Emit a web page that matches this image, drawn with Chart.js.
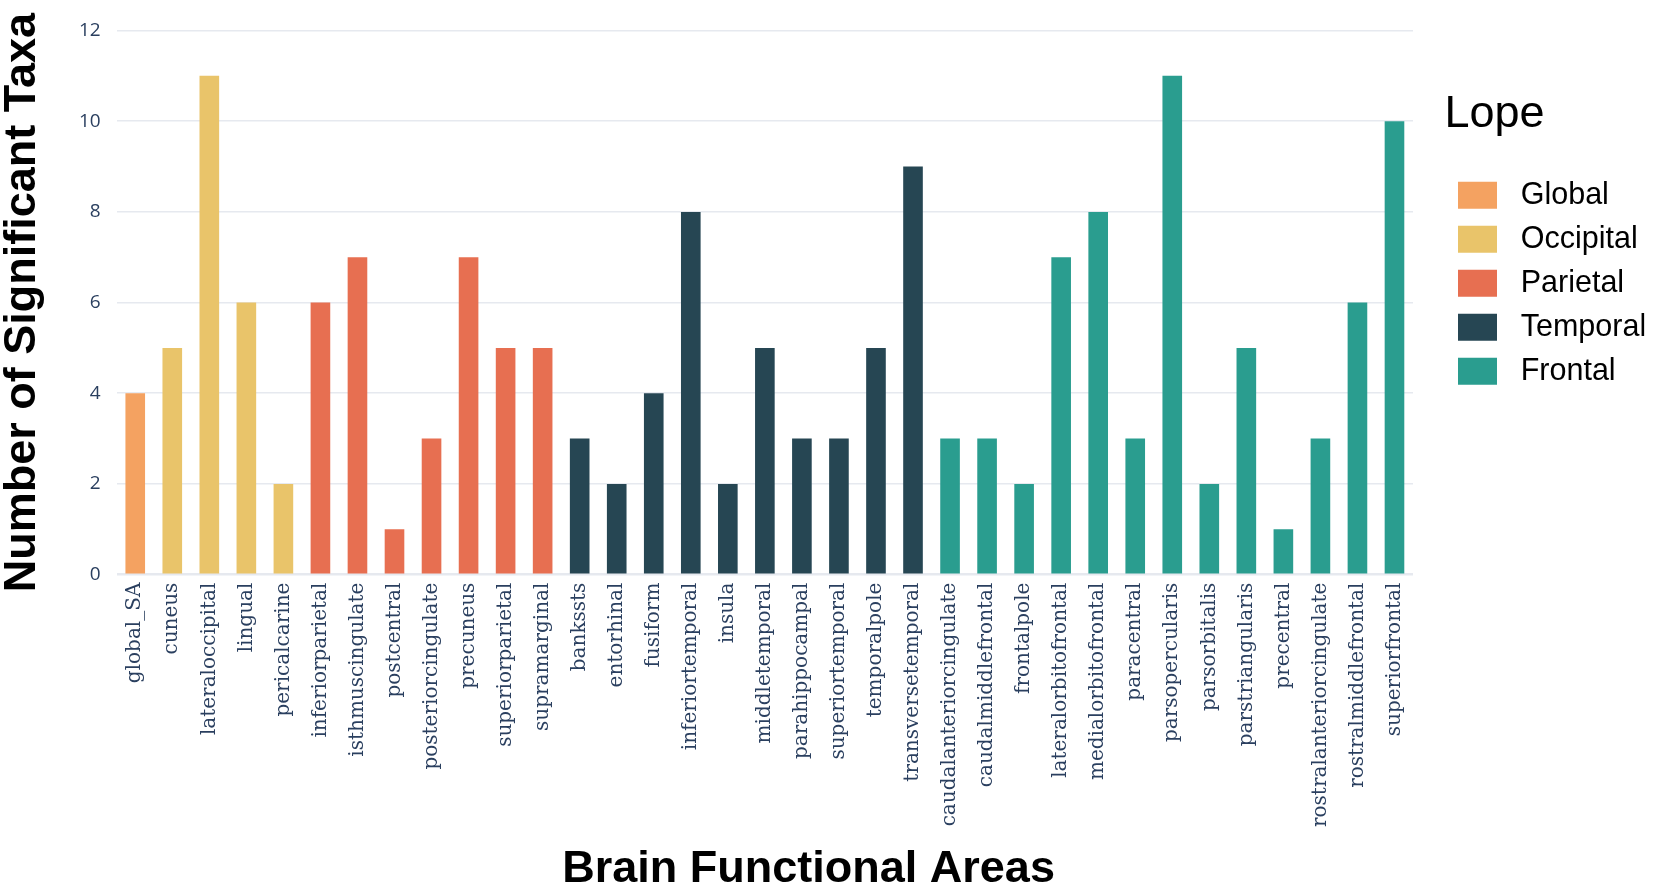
<!DOCTYPE html>
<html>
<head>
<meta charset="utf-8">
<script src="https://cdn.jsdelivr.net/npm/chart.js@4.4.1/dist/chart.umd.min.js"></script>
<style>
html, body { margin: 0; padding: 0; background: #ffffff; }
#wrap { width: 1654px; height: 892px; position: relative; }
</style>
</head>
<body>
<div id="wrap"><canvas id="c"></canvas></div>
<script>
// ---- data ----
const categories = ["global_SA","cuneus","lateraloccipital","lingual","pericalcarine",
  "inferiorparietal","isthmuscingulate","postcentral","posteriorcingulate","precuneus",
  "superiorparietal","supramarginal","bankssts","entorhinal","fusiform","inferiortemporal",
  "insula","middletemporal","parahippocampal","superiortemporal","temporalpole",
  "transversetemporal","caudalanteriorcingulate","caudalmiddlefrontal","frontalpole",
  "lateralorbitofrontal","medialorbitofrontal","paracentral","parsopercularis",
  "parsorbitalis","parstriangularis","precentral","rostralanteriorcingulate",
  "rostralmiddlefrontal","superiorfrontal"];
const values = [4,5,11,6,2, 6,7,1,3,7, 5,5,3,2,4,8, 2,5,3,3,5, 9,3,3,2, 7,8,3,11, 2,5,1,3, 6,10];
const lobes = ["Global","Occipital","Occipital","Occipital","Occipital",
  "Parietal","Parietal","Parietal","Parietal","Parietal",
  "Parietal","Parietal","Temporal","Temporal","Temporal","Temporal",
  "Temporal","Temporal","Temporal","Temporal","Temporal",
  "Temporal","Frontal","Frontal","Frontal",
  "Frontal","Frontal","Frontal","Frontal",
  "Frontal","Frontal","Frontal","Frontal",
  "Frontal","Frontal"];
const lobeNames = ["Global","Occipital","Parietal","Temporal","Frontal"];
const yTicks = [0,2,4,6,8,10,12];

// ---- styles ----
const lobeColors = {Global:"#f4a261", Occipital:"#e9c46a", Parietal:"#e76f51", Temporal:"#264653", Frontal:"#2a9d8f"};

const datasets = lobeNames.map(name => ({
  label: name,
  data: values.map((v, i) => lobes[i] === name ? v : null),
  backgroundColor: lobeColors[name],
  borderWidth: 0,
  barPercentage: 0.53,
  categoryPercentage: 1.0,
  grouped: false
}));

new Chart(document.getElementById('c'), {
  type: 'bar',
  data: { labels: categories, datasets },
  options: {
    responsive: true,
    maintainAspectRatio: false,
    animation: false,
    devicePixelRatio: 1,
    layout: { padding: { top: 30.5, right: 9.5, bottom: 0, left: 0 } },
    plugins: {
      tooltip: { enabled: false },
      legend: {
        position: 'right',
        align: 'start',
        maxWidth: 200,
        title: {
          display: true, text: 'Lope', position: 'start', color: '#000',
          font: { family: 'Liberation Sans', size: 45, lineHeight: 1.2 },
          padding: { top: 62, bottom: 20 }
        },
        labels: {
          color: '#000',
          font: { family: 'Liberation Sans', size: 30.5 },
          boxWidth: 39, boxHeight: 27, padding: 13.5,
          generateLabels: chart => Chart.defaults.plugins.legend.labels.generateLabels(chart)
            .map(item => Object.assign(item, { text: ' ' + item.text }))
        }
      }
    },
    scales: {
      x: {
        grid: { display: false, drawTicks: false },
        border: { display: false },
        ticks: {
          autoSkip: false, maxRotation: 90, minRotation: 90, padding: 8,
          color: '#2a3f5f', font: { family: 'DejaVu Serif', size: 20 }
        },
        title: {
          display: true, text: '\u00a0\u00a0\u00a0\u00a0\u00a0\u00a0\u00a0Brain Functional Areas', color: '#000',
          font: { family: 'Liberation Sans', size: 45, weight: 'bold', lineHeight: 1 },
          padding: { top: 12, bottom: 0 }
        }
      },
      y: {
        min: 0, max: 12,
        afterBuildTicks: s => { s.ticks = yTicks.map(v => ({ value: v })); },
        grid: {
          drawTicks: false, color: '#e6e9ef',
          lineWidth: ctx => ctx.tick && ctx.tick.value === 0 ? 2.5 : 1.6
        },
        border: { display: false },
        ticks: { padding: 16, color: '#2a3f5f', font: { family: 'Open Sans', size: 19 } },
        title: {
          display: true, text: 'Number of Significant Taxa', color: '#000',
          font: { family: 'Liberation Sans', size: 45, weight: 'bold', lineHeight: 1 },
          padding: { top: 0, bottom: 18 }
        }
      },
      gap: {
        type: 'linear', position: 'right', display: true,
        grid: { display: false, drawTicks: false }, border: { display: false },
        ticks: { display: false },
        afterFit: s => { s.width = 31.5; }
      }
    }
  }
});
</script>
</body>
</html>
